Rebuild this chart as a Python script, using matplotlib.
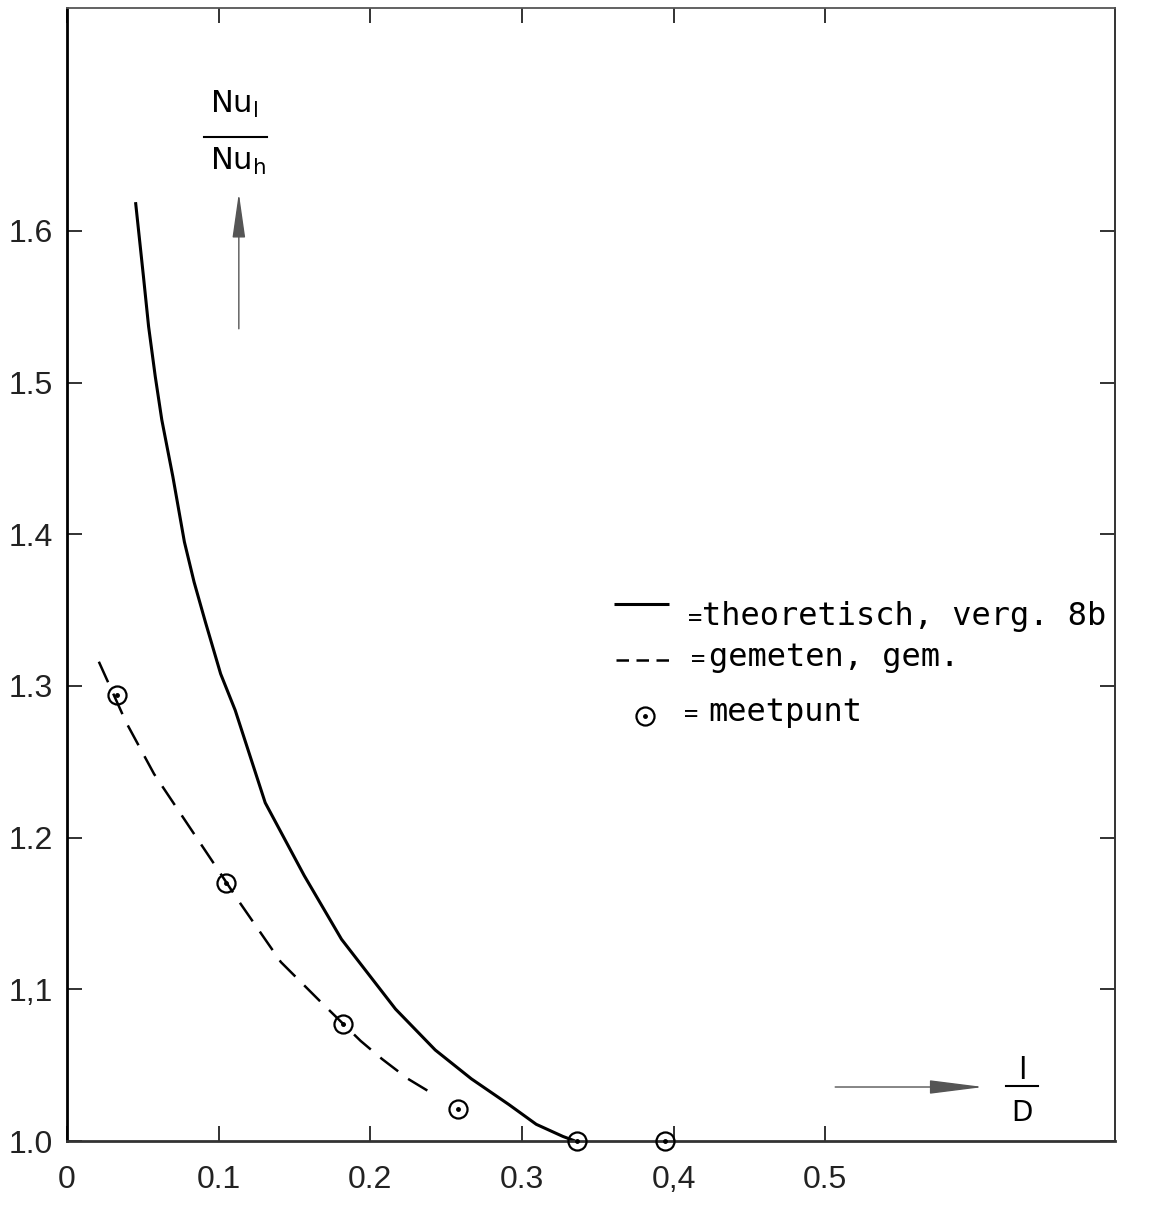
import matplotlib
matplotlib.use('Agg')
import matplotlib.pyplot as plt

# ---- data (x = l/D, y = Nu_l/Nu_h) ----
theo_x = [0.0452, 0.0504, 0.0538, 0.0582, 0.0625, 0.0698, 0.0774, 0.0838, 0.0913,
          0.1013, 0.1109, 0.1307, 0.1564, 0.181, 0.2166, 0.2428, 0.2666, 0.2914,
          0.3094, 0.327, 0.335]
theo_y = [1.619, 1.570, 1.537, 1.504, 1.4755, 1.438, 1.395, 1.3685, 1.342,
          1.308, 1.284, 1.223, 1.175, 1.133, 1.087, 1.060, 1.041, 1.024,
          1.011, 1.003, 1.000]

meas_x = [0.021, 0.039, 0.0574, 0.0968, 0.113, 0.141, 0.167, 0.1936, 0.2078, 0.2248, 0.243]
meas_y = [1.316, 1.276, 1.242, 1.183, 1.1585, 1.118, 1.092, 1.066, 1.054, 1.041, 1.030]

pts_x = [0.0332, 0.105, 0.182, 0.258, 0.336, 0.394]
pts_y = [1.294, 1.170, 1.077, 1.021, 1.000, 1.000]

x_ticks = [0, 0.1, 0.2, 0.3, 0.4, 0.5]
x_labels = ['0', '0.1', '0.2', '0.3', '0,4', '0.5']
y_ticks = [1.0, 1.1, 1.2, 1.3, 1.4, 1.5, 1.6]
y_labels = ['1.0', '1,1', '1.2', '1.3', '1.4', '1.5', '1.6']

legend_labels = ['theoretisch, verg. 8b', 'gemeten, gem.', 'meetpunt']

# ---- figure ----
fig = plt.figure(figsize=(11.54, 12.14), dpi=100)
ax = fig.add_axes([0.05806, 0.06013, 0.90815, 0.93328])
ax.set_xlim(0, 0.691)
ax.set_ylim(1.0, 1.747)

ax.plot(theo_x, theo_y, color='black', lw=2.2, solid_capstyle='butt',
        solid_joinstyle='round')
ax.plot(meas_x, meas_y, color='black', lw=1.8, dashes=(9, 5))
ax.plot(pts_x, pts_y, 'o', ms=13, mfc='none', mec='black', mew=1.6, clip_on=False, zorder=4)
ax.plot(pts_x, pts_y, 'o', ms=2.5, color='black', clip_on=False, zorder=4)

# ticks
tick_font = {'family': 'Liberation Sans', 'size': 23}
ax.set_xticks(x_ticks)
ax.set_xticklabels(x_labels, fontdict=tick_font, color='#222222')
ax.set_yticks(y_ticks)
ax.set_yticklabels(y_labels, fontdict=tick_font, color='#222222')
ax.tick_params(axis='both', direction='in', length=11, width=1.3, color='#222222',
               top=True, right=True)
ax.tick_params(axis='x', pad=17)
ax.tick_params(axis='y', pad=10)

for side, lw, col in [('left', 2.0, 'black'), ('bottom', 2.0, '#333333'),
                      ('top', 1.3, '#555555'), ('right', 1.4, '#333333')]:
    ax.spines[side].set_linewidth(lw)
    ax.spines[side].set_color(col)

# ---- hand-drawn legend ----
mono = 'DejaVu Sans Mono'
ax.plot([0.3605, 0.3967], [1.354, 1.354], color='black', lw=2.2, solid_capstyle='butt')
ax.plot([0.3618, 0.3986], [1.3172, 1.3172], color='black', lw=1.8, dashes=(5, 3))
ax.plot([0.3814], [1.2804], 'o', ms=13, mfc='none', mec='black', mew=1.6)
ax.plot([0.3814], [1.2804], 'o', ms=2.5, color='black')

eq_pos = [(0.4144, 1.3401), (0.4163, 1.3131), (0.4113, 1.2767)]
txt_pos = [(0.419, 1.340), (0.4232, 1.3134), (0.4225, 1.2771)]
for (ex, ey), (tx, ty), lab in zip(eq_pos, txt_pos, legend_labels):
    ax.text(ex, ey, '=', family=mono, fontsize=17, ha='center', va='baseline')
    ax.text(tx, ty, lab, family=mono, fontsize=23, ha='left', va='baseline')

# ---- y quantity label with arrow ----
sans = 'DejaVu Sans'
ax.text(0.094, 1.6777, r'$\mathregular{Nu_l}$', family=sans, fontsize=22,
        ha='left', va='baseline')
ax.plot([0.0902, 0.132], [1.6618, 1.6618], color='black', lw=1.5)
ax.text(0.094, 1.6404, r'$\mathregular{Nu_h}$', family=sans, fontsize=22,
        ha='left', va='baseline')
ax.annotate('', xy=(0.1133, 1.625), xytext=(0.1133, 1.5355),
            arrowprops=dict(arrowstyle='-|>,head_length=2.8,head_width=0.4',
                            color='#555555', lw=1.0, shrinkA=0, shrinkB=0,
                            mutation_scale=10))

# ---- x quantity label with arrow ----
ax.annotate('', xy=(0.6042, 1.0356), xytext=(0.5065, 1.0356),
            arrowprops=dict(arrowstyle='-|>,head_length=3.4,head_width=0.43',
                            color='#555555', lw=1.0, shrinkA=0, shrinkB=0,
                            mutation_scale=10))
ax.text(0.6296, 1.0409, 'l', family=sans, fontsize=22, ha='center', va='baseline')
ax.plot([0.6192, 0.6400], [1.0363, 1.0363], color='black', lw=1.5)
ax.text(0.6296, 1.0278, 'D', family=sans, fontsize=20, ha='center', va='top')

fig.savefig('out.png', dpi=100)
